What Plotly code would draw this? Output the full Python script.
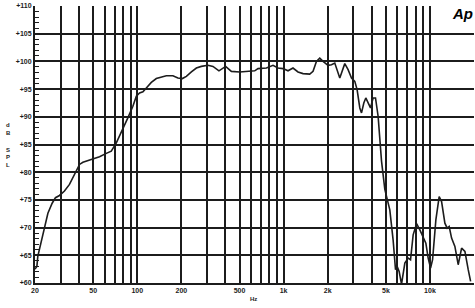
import plotly.graph_objects as go
import math

# Frequency response (Hz, dB SPL)
freq_hz = [20, 20.6, 20.9, 22.4, 23.9, 24.5, 26.2, 27.6, 29.4, 31.8, 34.4, 37.3, 40.3, 42.5,
           45.9, 49.7, 55.2, 61.4, 66.4, 71.9, 77.7, 86.2, 93.3, 98.5, 103.7, 109.3, 115.3,
           124.7, 134.9, 145.9, 157.9, 175.2, 189.5, 203.2, 216.5, 234.2, 253.4, 274.1, 304.1,
           329, 361.5, 401.8, 439.5, 500.9, 556.6, 634.6, 668.4, 762.8, 846.4, 915.6, 990.5,
           1071.6, 1159, 1254, 1357, 1508, 1589, 1676, 1766, 1860, 2012, 2124, 2237, 2420,
           2618, 2758, 2910, 3065, 3178, 3317, 3407, 3532, 3645, 3779, 3924, 4088, 4246, 4423,
           4667, 4917, 5317, 5600, 5817, 5966, 6157, 6394, 6737, 7096, 7368, 7677, 8101, 8532,
           8987, 9377, 9724, 10098, 10422, 10977, 11562, 12009, 12649, 13115, 13535, 14056,
           14807, 15596, 16455, 17335, 18260, 18962]
spl_db = [62.5, 63.0, 64.8, 68.4, 71.4, 72.6, 74.4, 75.4, 75.8, 76.6, 77.8, 79.6, 81.4, 81.8,
          82.1, 82.5, 82.8, 83.4, 83.8, 85.3, 87.1, 89.8, 91.9, 93.7, 94.3, 94.5, 95.2,
          96.2, 96.9, 97.2, 97.4, 97.4, 97.0, 96.9, 97.3, 98.1, 98.8, 99.1, 99.3,
          99.1, 98.3, 99.1, 98.2, 98.1, 98.2, 98.3, 98.7, 98.8, 99.3, 98.8, 98.7,
          98.3, 98.8, 98.1, 97.8, 97.7, 98.2, 100.0, 100.6, 100.0, 99.3, 99.4, 99.7, 97.0,
          99.6, 98.5, 97.0, 96.4, 94.9, 91.6, 90.7, 92.5, 93.4, 92.5, 91.6, 93.4, 93.4, 90.1,
          82.0, 76.9, 73.2, 67.8, 62.4, 63.0, 62.1, 59.8, 63.6, 64.5, 64.2, 68.7, 70.7, 69.6,
          68.1, 67.2, 64.5, 62.7, 64.2, 71.4, 75.6, 74.7, 70.8, 69.9, 70.2, 68.1,
          66.6, 63.3, 66.3, 65.7, 62.4, 60.3]

x_grid = [20, 30, 40, 50, 60, 70, 80, 90, 100, 200, 300, 400, 500, 600, 700, 800, 900,
          1000, 2000, 3000, 4000, 5000, 6000, 7000, 8000, 9000, 10000, 20000]
x_labels = {20: "20", 50: "50", 100: "100", 200: "200", 500: "500", 1000: "1k",
            2000: "2k", 5000: "5k", 10000: "10k", 20000: "20k"}
x_text = [("<b>" + x_labels[v] + "</b>") if v in x_labels else "" for v in x_grid]
y_label_letters = ["d", "B", "S", "P", "L"]

ink = "#1c1c1c"
font = dict(family="Liberation Sans", size=7, color=ink)

W, H = 475, 308
L, R, T, B = 35, 1, 6, 25
pw, ph = W - L - R, H - T - B

def px(xp):
    return (xp - L) / pw

def py(yp):
    return 1 - (yp - T) / ph

fig = go.Figure()
fig.add_trace(go.Scatter(x=freq_hz, y=spl_db, mode="lines",
                         line=dict(color=ink, width=1.6), hoverinfo="skip"))

fig.update_layout(
    width=W, height=H,
    margin=dict(l=L, r=R, t=T, b=B),
    paper_bgcolor="white", plot_bgcolor="white",
    showlegend=False,
    font=font,
    xaxis=dict(type="log", range=[math.log10(20), math.log10(20000)],
               tickmode="array", tickvals=x_grid, ticktext=x_text,
               showgrid=True, gridcolor=ink, gridwidth=2,
               showline=True, linecolor=ink, linewidth=2,
               ticks="", tickfont=font, zeroline=False),
    yaxis=dict(range=[60, 110], tickmode="linear", tick0=60, dtick=5,
               showgrid=True, gridcolor=ink, gridwidth=2,
               showline=True, linecolor=ink, linewidth=2,
               ticks="inside", ticklen=5, tickwidth=1, tickcolor=ink,
               tickprefix="+", tickfont=dict(family="Liberation Sans", size=7, color=ink,
                                             weight="bold"),
               zeroline=False,
               minor=dict(ticks="inside", tickmode="linear", tick0=60, dtick=1,
                          ticklen=4, tickwidth=1, tickcolor=ink, showgrid=False)),
)

fig.add_annotation(x=px(253), y=py(299), xref="paper", yref="paper", text="<b>Hz</b>",
                   showarrow=False, xanchor="center", yanchor="middle",
                   font=dict(family="Liberation Sans", size=6, color=ink))
letter_y = [125, 133, 150, 157, 165]
for ch, yy in zip(y_label_letters, letter_y):
    fig.add_annotation(x=px(8), y=py(yy), xref="paper", yref="paper", text="<b>" + ch + "</b>",
                       showarrow=False, xanchor="center", yanchor="middle",
                       font=dict(family="Liberation Sans", size=6, color=ink))
fig.add_annotation(x=px(462), y=py(14), xref="paper", yref="paper",
                   text="<b><i>Ap</i></b>", showarrow=False, xanchor="center", yanchor="middle",
                   font=dict(family="Liberation Sans", size=15, color="#000"))

fig.write_html("out.html")
